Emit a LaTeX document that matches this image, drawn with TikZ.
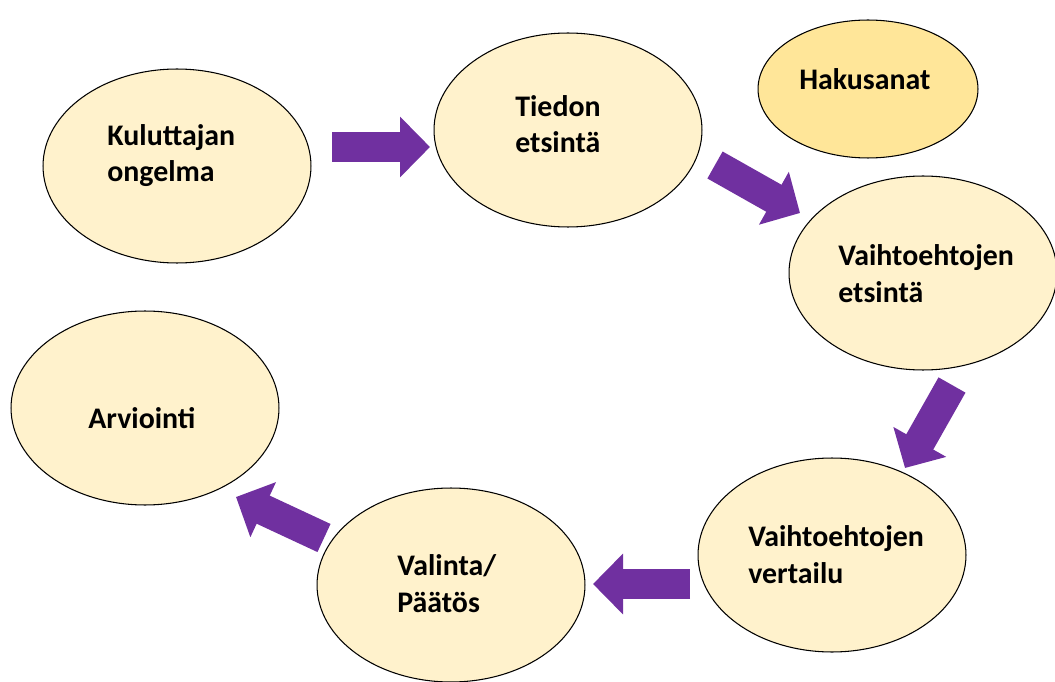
\documentclass[tikz,border=0pt]{standalone}
\usepackage{fontspec}
\setmainfont{Carlito}
\usetikzlibrary{shapes.geometric,arrows.meta}
\definecolor{stagefill}{HTML}{FFF2CC}
\definecolor{keyfill}{HTML}{FFE699}
\definecolor{flowpurple}{HTML}{7030A0}
\begin{document}
\begin{tikzpicture}[x=0.02cm,y=-0.02cm,
stage/.style={ellipse,draw,semithick,fill=stagefill,inner sep=0pt,minimum width=5.36cm,minimum height=3.88cm},
keyword/.style={ellipse,draw,semithick,fill=keyfill,inner sep=0pt,minimum width=4.4cm,minimum height=2.76cm},
txt/.style={anchor=base west,align=left,inner sep=0pt,font=\fontsize{17}{21}\selectfont\bfseries},
flow/.style={line width=0.62cm,draw=flowpurple,-{Triangle[width=1.18cm,length=0.6cm]}}]
\useasboundingbox (0,0) rectangle (1055,682);
% the stages
\draw (177,166) node[stage] (kul) {};
\draw (568,130) node[stage] (tie) {};
\draw (868,89) node[keyword] (hak) {};
\draw (923,273) node[stage] (vet) {};
\draw (832,555) node[stage] (vve) {};
\draw (451,585) node[stage] (val) {};
\draw (145,408) node[stage] (arv) {};
% labels, base of the last line
\draw (107,182) node[txt] (kultext) {Kuluttajan\\ongelma};
\draw (515,153) node[txt] (tietext) {Tiedon\\etsintä};
\draw (799,90) node[txt] (haktext) {Hakusanat};
\draw (838,302) node[txt] (vettext) {Vaihtoehtojen\\etsintä};
\draw (748,583) node[txt] (vvetext) {Vaihtoehtojen\\vertailu};
\draw (397,612) node[txt] (valtext) {Valinta/\\Päätös};
\draw (88,428) node[txt] (arvtext) {Arviointi};
% arrow ends
\coordinate (a1s) at (332,147); \coordinate (a1e) at (430,147);
\coordinate (a2s) at (715,165); \coordinate (a2e) at (800,213);
\coordinate (a3s) at (952,385); \coordinate (a3e) at (905,468);
\coordinate (a4s) at (690,584); \coordinate (a4e) at (593,584);
\coordinate (a5s) at (324,538); \coordinate (a5e) at (236,497);
\draw[flow] (a1s) -- (a1e);
\draw[flow] (a2s) -- (a2e);
\draw[flow] (a3s) -- (a3e);
\draw[flow] (a4s) -- (a4e);
\draw[flow] (a5s) -- (a5e);
\end{tikzpicture}
\end{document}
